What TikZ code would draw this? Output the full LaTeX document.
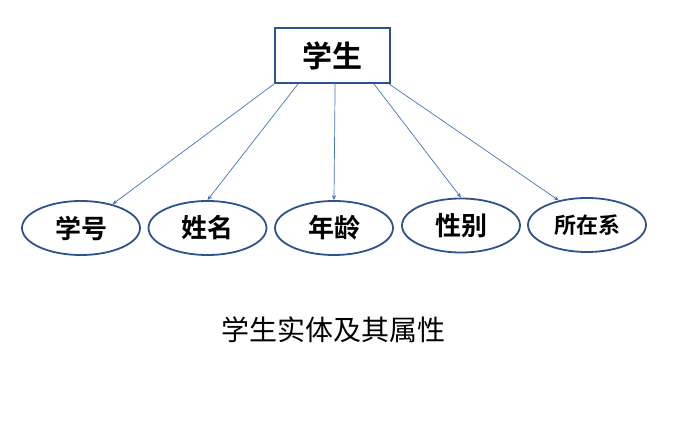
\documentclass[tikz,border=0pt]{standalone}
\usepackage{fontspec}
\newfontfamily\cjk{Noto Sans CJK SC}
\newfontfamily\cjkb{Noto Sans CJK SC Bold}
\usetikzlibrary{shapes.geometric,arrows.meta}
\definecolor{lineblue}{RGB}{68,114,196}
\definecolor{edgeblue}{RGB}{47,82,143}
\tikzset{
  entitybox/.style={draw=edgeblue, line width=1.8pt, fill=white, minimum width=115pt, minimum height=55pt, inner sep=0pt, font=\cjkb\fontsize{30}{32}\selectfont},
  attr/.style={ellipse, draw=edgeblue, line width=1.8pt, fill=white, minimum width=118pt, minimum height=54pt, inner sep=0pt, font=\cjkb\fontsize{26}{28}\selectfont},
  link/.style={draw=lineblue, line width=0.7pt, -{Stealth[length=5pt,width=4pt]}},
  caption/.style={font=\cjk\fontsize{28}{30}\selectfont}
}
\begin{document}
\begin{tikzpicture}[x=1pt,y=-1pt]
\useasboundingbox (0,0) rectangle (678,435);
\node[entitybox] (stu) at (332.5,55.5) {学生};
\node[attr] (a1) at (81,228) {学号};
\node[attr] (a2) at (207.5,228) {姓名};
\node[attr] (a3) at (334,228) {年龄};
\node[attr] (a4) at (461,225.5) {性别};
\node[attr, font=\cjkb\fontsize{22}{26}\selectfont] (a5) at (587,225) {所在系};
\node[caption] (cap) at (333,330) {学生实体及其属性};
\draw[link] (stu.south west) -- (a1.37);
\draw[link] ([xshift=24pt]stu.south west) -- (a2.north);
\draw[link] ([xshift=61pt]stu.south west) -- (a3.north);
\draw[link] ([xshift=-17pt]stu.south east) -- (a4.north);
\draw[link] ([xshift=-2pt]stu.south east) -- (a5.139);
\end{tikzpicture}
\end{document}
